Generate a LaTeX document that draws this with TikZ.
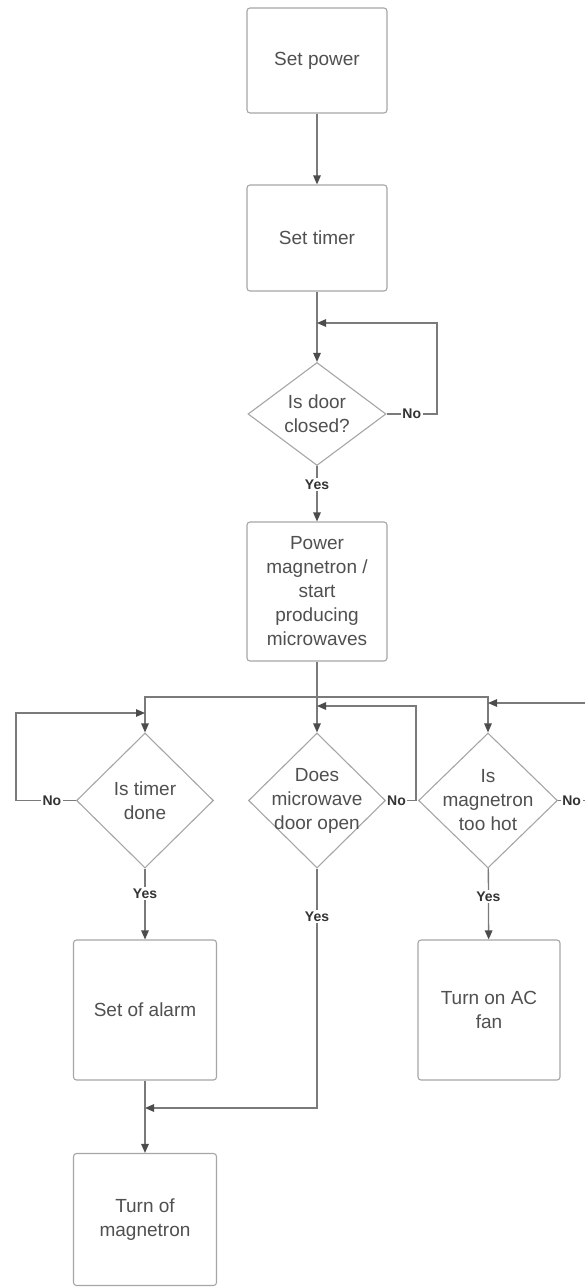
\documentclass[tikz,border=0pt]{standalone}
\usepackage{fontspec}
\setmainfont{Liberation Sans}
\usetikzlibrary{shapes.geometric,arrows.meta}
\definecolor{boxc}{HTML}{A6A6A6}
\definecolor{linec}{HTML}{7A7A7A}
\definecolor{txtc}{HTML}{505050}
\begin{document}
\begin{tikzpicture}[x=1pt,y=-1pt,
  box/.style={draw=boxc, line width=1.1pt, rounded corners=3pt, fill=white,
    minimum width=140pt, text=txtc, font=\fontsize{19}{24}\selectfont,
    align=center, inner sep=0pt},
  decision/.style={draw=boxc, line width=1.1pt, diamond, minimum width=137pt,
    minimum height=135pt, inner sep=0pt, fill=white},
  dtext/.style={text=txtc, font=\fontsize{19}{24}\selectfont, align=center},
  conn/.style={draw=linec, line width=1.3pt},
  arr/.style={conn, -{Triangle[length=9pt,width=7.5pt,color=black!70]}},
  lab/.style={fill=white, text=black!80, font=\bfseries\fontsize{14}{16}\selectfont, inner sep=1.5pt}
]
\useasboundingbox (0,0) rectangle (584,1287);

% process boxes
\node[box, minimum height=105pt] (sp) at (317,60.5) {Set power};
\node[box, minimum height=106pt] (st) at (317,238) {Set timer};
\node[decision, minimum width=138pt, minimum height=103pt,
  label={[dtext]center:{Is door\\closed?}}] (d1) at (317,414) {};
\node[box, minimum height=139pt] (pw) at (317,591.5)
  {Power\\magnetron /\\start\\producing\\microwaves};

\node[decision, label={[dtext]center:{Is timer\\done}}] (dtimer) at (145,800.5) {};
\node[decision, label={[dtext]center:{Does\\microwave\\door open}}] (ddoor) at (317,800.5) {};
\node[decision, minimum width=139pt,
  label={[dtext]center:{Is\\magnetron\\too hot}}] (dhot) at (488,800.5) {};

\node[box, minimum width=143pt, minimum height=140pt] (alarm) at (145,1010) {Set of alarm};
\node[box, minimum width=142pt, minimum height=140pt] (fan) at (489,1010) {Turn on AC\\fan};
\node[box, minimum width=143pt, minimum height=132pt] (off) at (145,1219.5) {Turn of\\magnetron};

% coordinates
\coordinate (m1) at (317,323);
\coordinate (r1) at (437,414);
\coordinate (b) at (317,697);
\coordinate (mt) at (145,713);
\coordinate (lt) at (16,800.5);
\coordinate (md) at (317,706);
\coordinate (rd) at (416,800.5);
\coordinate (mh) at (488,703);
\coordinate (rh) at (594,800.5);
\coordinate (yd) at (317,1108);
\coordinate (ma) at (145,1108);

% connectors
\draw[arr] (sp) -- (st);
\draw[arr] (st) -- (d1);
\draw[arr] (d1.east) -- node[lab]{No} (r1) |- (m1);
\draw[arr] (d1) -- node[lab, pos=0.33]{Yes} (pw);

\draw[conn] (pw) -- (b);
\draw[arr] (b) -- (ddoor);
\draw[arr] (b) -| (dtimer.north);
\draw[arr] (b) -| (dhot.north);

\draw[arr] (dtimer.west) -- node[lab, pos=0.4]{No} (lt) |- (mt);
\draw[arr] (ddoor.east) -- node[lab, pos=0.35]{No} (rd) |- (md);
\draw[arr] (dhot.east) -- node[lab, pos=0.38]{No} (rh) |- (mh);

\draw[arr] (dtimer) -- node[lab, pos=0.35]{Yes} (alarm);
\draw[arr] (dhot) -- node[lab, pos=0.4]{Yes} (fan);
\draw[arr] (ddoor.south) -- node[lab, pos=0.2]{Yes} (yd) -- (ma);
\draw[arr] (alarm) -- (off);
\end{tikzpicture}
\end{document}
